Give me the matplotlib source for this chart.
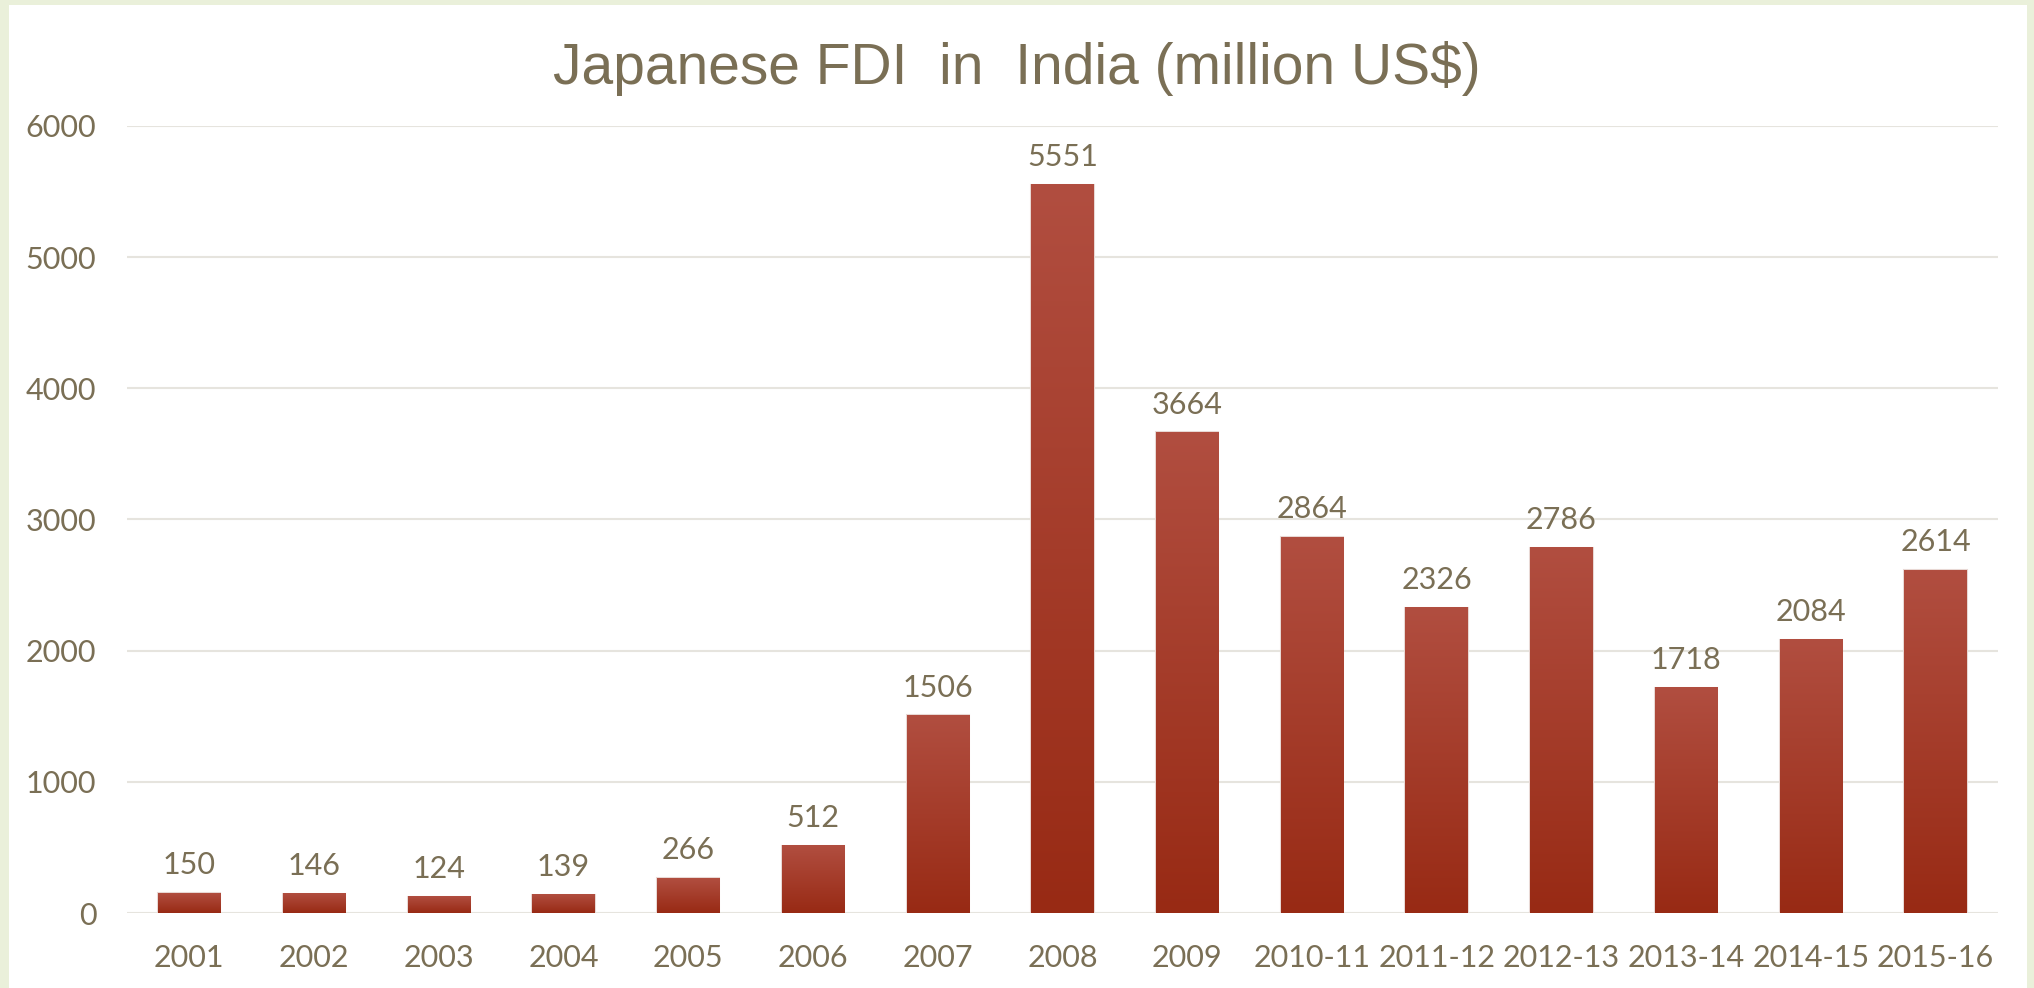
import matplotlib.pyplot as plt
import numpy as np
from matplotlib.colors import LinearSegmentedColormap
from matplotlib.patches import Rectangle

years = ["2001", "2002", "2003", "2004", "2005", "2006", "2007", "2008", "2009",
         "2010-11", "2011-12", "2012-13", "2013-14", "2014-15", "2015-16"]
fdi = [150, 146, 124, 139, 266, 512, 1506, 5551, 3664, 2864, 2326, 2786, 1718, 2084, 2614]
yticks = [0, 1000, 2000, 3000, 4000, 5000, 6000]

text_col = "#7A6F55"
grid_col = "#E6E4DE"
bar_cmap = LinearSegmentedColormap.from_list("bar", ["#982A14", "#B14E40"])

fig = plt.figure(figsize=(20.34, 9.88), dpi=100, facecolor="#EAF0DA")
fig.patches.append(Rectangle((9 / 2034, 0), 2018 / 2034, 1 - 5 / 988,
                             transform=fig.transFigure, facecolor="white",
                             edgecolor="none", zorder=-5))

ax = fig.add_axes([0.0624, 0.0759, 0.9199, 0.7966])
ax.set_facecolor("none")

width = 0.5
grad = np.linspace(0, 1, 256).reshape(-1, 1)
for i, v in enumerate(fdi):
    # soft edge, then gradient fill
    ax.add_patch(Rectangle((i - width / 2, 0), width, v, facecolor="none",
                           edgecolor="#E8D8D4", linewidth=1.5, zorder=2))
    ax.imshow(grad, cmap=bar_cmap, aspect="auto", origin="lower",
              extent=(i - width / 2, i + width / 2, 0, v), zorder=3)
    ax.annotate(str(v), (i, v), xytext=(0, 10), textcoords="offset points",
                ha="center", va="bottom", fontsize=22, color=text_col,
                family="Lato")

ax.set_xlim(-0.5, len(years) - 0.5)
ax.set_ylim(0, 6000)
ax.set_yticks(yticks)
ax.set_xticks(range(len(years)))
ax.set_xticklabels(years)
ax.tick_params(axis="both", length=0, labelsize=22, labelcolor=text_col)
ax.tick_params(axis="x", pad=22)
ax.tick_params(axis="y", pad=22)
for lab in ax.get_xticklabels() + ax.get_yticklabels():
    lab.set_family("Lato")
ax.grid(axis="y", color=grid_col, linewidth=1.5, zorder=0)
ax.set_axisbelow(True)
for s in ax.spines.values():
    s.set_visible(False)

fig.text(0.5, 0.931, "Japanese FDI  in  India (million US$)", ha="center", va="center",
         fontsize=41, color=text_col, family="Liberation Sans")

fig.savefig("out.png", dpi=100, facecolor=fig.get_facecolor())
